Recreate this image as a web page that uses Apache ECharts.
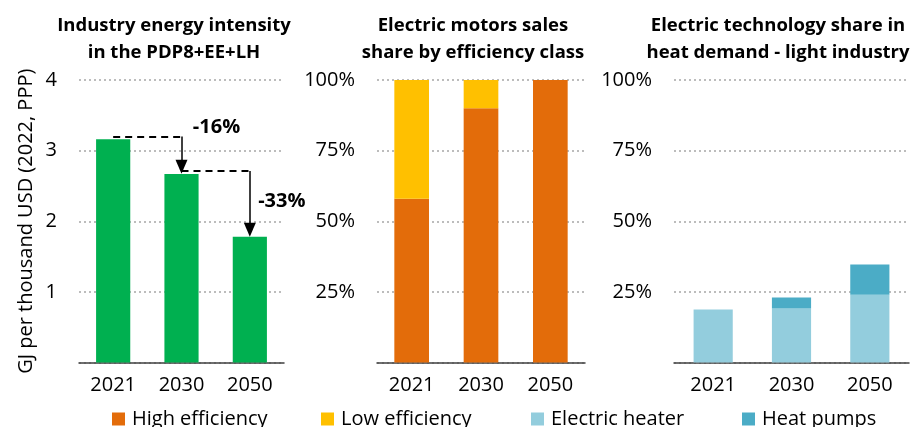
<!DOCTYPE html>
<html><head><meta charset="utf-8">
<script src="https://cdn.jsdelivr.net/npm/echarts@6/dist/echarts.min.js"></script>
<style>html,body{margin:0;padding:0;background:#fff}#c{width:921px;height:427px}</style>
</head><body><div id="c"></div>
<script>
const years = ['2021', '2030', '2050'];
const intensity = [3.16, 2.67, 1.78];
const highEff = [58, 90, 100];
const lowEff = [42, 10, 0];
const elecHeater = [18.8, 19.1, 24.0];
const heatPumps = [0, 3.9, 10.7];
const changeLabels = ['-16%', '-33%'];
const titles = [
  'Industry energy intensity\nin the PDP8+EE+LH',
  'Electric motors sales\nshare by efficiency class',
  'Electric technology share in\nheat demand - light industry'
];
const yName = 'GJ per thousand USD (2022, PPP)';

const FONT = 'Open Sans';
const C = {green:'#00B050', orange:'#E36C0A', yellow:'#FFC000', light:'#93CDDD', hp:'#4BACC6'};

const chart = echarts.init(document.getElementById('c'), null, {renderer:'canvas'});

const grids = [
  {left:79, width:205, top:80, bottom:64.5},
  {left:377, width:208, top:80, bottom:64.5},
  {left:674, width:235, top:80, bottom:64.5}
];
function xAx(i){
  return {type:'category', gridIndex:i, data:years,
    axisLine:{lineStyle:{color:'#404040', width:1.5}}, axisTick:{show:false},
    axisLabel:{fontFamily:FONT, fontSize:20, color:'#000', margin:13}};
}
function yAx(i, max, interval, pct){
  return {type:'value', gridIndex:i, min:0, max:max, interval:interval,
    axisLine:{show:false}, axisTick:{show:false},
    splitLine:{show:true, lineStyle:{color:'#A6A6A6', type:[2,3], width:1.5}},
    axisLabel:{fontFamily:FONT, fontSize:20, color:'#000', margin:22, showMinLabel:false,
      formatter: pct ? '{value}%' : '{value}'}};
}
const yAxes = [yAx(0,4,1,false), yAx(1,100,25,true), yAx(2,100,25,true)];
yAxes[0].name = yName;
yAxes[0].nameLocation = 'middle';
yAxes[0].nameGap = 43;
yAxes[0].nameTextStyle = {fontFamily:FONT, fontSize:20, color:'#000'};

const titleCenters = [169, 468, 773];
const titleComps = titles.map((t,i)=>({
  text:t, left: titleCenters[i], top:7, textAlign:'center',
  textStyle:{fontFamily:FONT, fontWeight:'bold', fontSize:18.5, color:'#000', lineHeight:27}
}));

const legendNames = ['High efficiency','Low efficiency','Electric heater','Heat pumps'];
const legendLeft = [112, 321, 531, 742];
const legends = legendNames.map((n,i)=>({
  data:[n], left:legendLeft[i], top:409, padding:0, itemWidth:13, itemHeight:13, icon:'rect',
  selectedMode:false, itemGap:0,
  textStyle:{fontFamily:FONT, fontSize:20, color:'#000', padding:[0,0,0,2]}
}));

const arrowPad = 0.1;
const dashLift = 0.04;
const lineStyleDash = {type:[7,5], color:'#000', width:2};
const lineStyleArrow = {type:'solid', color:'#000', width:1.5};
const arrowEnd = {symbol:'triangle', symbolSize:[12,14]};

const series = [
  {type:'bar', name:'Intensity', xAxisIndex:0, yAxisIndex:0, data:intensity, barWidth:'50%',
   itemStyle:{color:C.green}, silent:true,
   markLine:{silent:true, animation:false, symbol:['none','none'], label:{show:false},
     data:[
       [{coord:[0, intensity[0]+dashLift], lineStyle:lineStyleDash}, {coord:[1, intensity[0]+dashLift]}],
       [{coord:[1, intensity[0]+dashLift], lineStyle:lineStyleArrow, symbol:'none'}, Object.assign({coord:[1, intensity[1]+arrowPad]}, arrowEnd)],
       [{coord:[1, intensity[1]+dashLift], lineStyle:lineStyleDash}, {coord:[2, intensity[1]+dashLift]}],
       [{coord:[2, intensity[1]+dashLift], lineStyle:lineStyleArrow, symbol:'none'}, Object.assign({coord:[2, intensity[2]+arrowPad]}, arrowEnd)]
     ]},
   markPoint:{silent:true, animation:false, symbol:'rect', symbolSize:1, itemStyle:{color:'rgba(0,0,0,0)'},
     label:{show:true, position:'inside', fontFamily:FONT, fontWeight:'bold', fontSize:20, color:'#000'},
     data:[
       {coord:[1, intensity[0]], label:{formatter:changeLabels[0], offset:[35,-12]}},
       {coord:[2, intensity[1]], label:{formatter:changeLabels[1], offset:[32,27]}}
     ]}
  },
  {type:'bar', name:'High efficiency', xAxisIndex:1, yAxisIndex:1, stack:'m', data:highEff, barWidth:'50%', itemStyle:{color:C.orange}},
  {type:'bar', name:'Low efficiency', xAxisIndex:1, yAxisIndex:1, stack:'m', data:lowEff, barWidth:'50%', itemStyle:{color:C.yellow}},
  {type:'bar', name:'Electric heater', xAxisIndex:2, yAxisIndex:2, stack:'h', data:elecHeater, barWidth:'50%', itemStyle:{color:C.light}},
  {type:'bar', name:'Heat pumps', xAxisIndex:2, yAxisIndex:2, stack:'h', data:heatPumps, barWidth:'50%', itemStyle:{color:C.hp}}
];

chart.setOption({
  animation:false,
  backgroundColor:'#fff',
  title:titleComps,
  legend:legends,
  grid:grids,
  xAxis:[xAx(0), xAx(1), xAx(2)],
  yAxis:yAxes,
  series:series
});
</script>
</body></html>
